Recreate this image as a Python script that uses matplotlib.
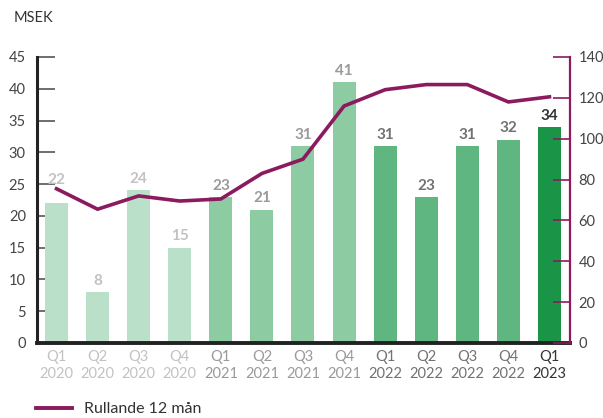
import matplotlib
matplotlib.use("Agg")
import matplotlib.pyplot as plt
from matplotlib.lines import Line2D

plt.rcParams['font.family'] = ['Lato', 'DejaVu Sans']

quarters = ["Q1", "Q2", "Q3", "Q4", "Q1", "Q2", "Q3", "Q4", "Q1", "Q2", "Q3", "Q4", "Q1"]
years = ["2020", "2020", "2020", "2020", "2021", "2021", "2021", "2021",
         "2022", "2022", "2022", "2022", "2023"]
bar_values = [22, 8, 24, 15, 23, 21, 31, 41, 31, 23, 31, 32, 34]
rolling_12m = [75.5, 65.5, 72, 69.5, 70.5, 83, 90, 116, 124, 126.5, 126.5, 118, 120.5]

year_bar_color = {"2020": "#bae0ca", "2021": "#8dcba2", "2022": "#5fb681", "2023": "#1a9547"}
year_text_color = {"2020": "#c2c2c2", "2021": "#9a9a9a", "2022": "#727272", "2023": "#333333"}
line_color = "#8b1a5e"

fig = plt.figure(figsize=(6.03, 4.18), dpi=100)
ax = fig.add_axes([37/603, 1-343/418, (570-37)/603, (343-57)/418])
ax2 = ax.twinx()

x = list(range(len(bar_values)))
colors = [year_bar_color[y] for y in years]
ax.bar(x, bar_values, width=0.56, color=colors, zorder=2)

# extra label lift (points) where the label would collide with the line
label_lift = {0: 9}
for xi, v, yr in zip(x, bar_values, years):
    ax.annotate(str(v), (xi, v), xytext=(0, 3 + label_lift.get(xi, 0)), textcoords="offset points",
                ha="center", va="bottom", fontsize=11, fontweight="bold",
                color=year_text_color[yr])

ax2.plot(x, rolling_12m, color=line_color, linewidth=2.6, solid_joinstyle="miter", zorder=3)

ax.set_xlim(-0.475, 12.5)
ax.set_ylim(0, 45)
ax2.set_ylim(0, 140)
ax.set_yticks(range(0, 46, 5))
ax2.set_yticks(range(0, 141, 20))

ax.set_xticks(x)
ax.set_xticklabels([f"{q}\n{y}" for q, y in zip(quarters, years)], fontsize=10.5, linespacing=1.25)
for lbl, yr in zip(ax.get_xticklabels(), years):
    lbl.set_color(year_text_color[yr])
ax.tick_params(axis="x", length=0, pad=5)

ax.tick_params(axis="y", direction="in", length=13, width=1.2, color="#555555",
               labelsize=10.5, labelcolor="#444444", pad=8)
ax2.tick_params(axis="y", direction="in", length=12, width=1.2, color=line_color,
                labelsize=10.5, labelcolor="#444444", pad=6)

for a in (ax, ax2):
    a.spines["top"].set_visible(False)
ax.spines["right"].set_visible(False)
ax2.spines["left"].set_visible(False)
ax2.spines["bottom"].set_visible(False)
ax.spines["left"].set_linewidth(2.2)
ax.spines["left"].set_color("#222222")
ax.spines["bottom"].set_linewidth(2.8)
ax.spines["bottom"].set_color("#222222")
ax2.spines["right"].set_color(line_color)
ax2.spines["right"].set_linewidth(1.6)

fig.text(14/603, 1-18/418, "MSEK", fontsize=10.5, color="#333333", va="center", ha="left")

handle = Line2D([0], [0], color=line_color, linewidth=2.8)
fig.legend([handle], ["Rullande 12 mån"], loc="center left",
           bbox_to_anchor=(22/603, 1-409/418), frameon=False, fontsize=11.5,
           handlelength=2.2, handletextpad=0.8, labelcolor="#333333")

fig.savefig("out.png", dpi=100)
